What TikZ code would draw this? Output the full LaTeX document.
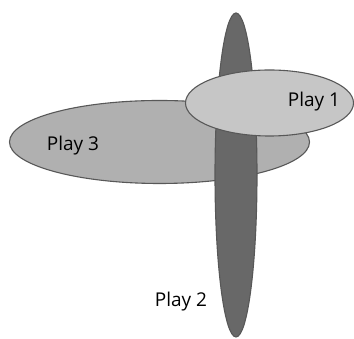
\documentclass[tikz,border=0pt]{standalone}
\usepackage{fontspec}
\setmainfont{Open Sans}
\usepackage{tikz}
\usetikzlibrary{positioning}
\definecolor{playlight}{RGB}{198,198,198}
\definecolor{playmid}{RGB}{176,176,176}
\definecolor{playdark}{RGB}{104,104,104}
\definecolor{playedge}{RGB}{88,88,88}
\tikzset{
  blob/.style={draw=playedge, line width=1.1pt},
  playlab/.style={font=\fontsize{19}{21}\selectfont, text=black, inner sep=0pt},
}

\begin{document}
\begin{tikzpicture}[x=1pt,y=1pt]
  \path[use as bounding box, fill=white] (0,0) rectangle (354,339);

  % overlapping plays
  \draw[blob, fill=playmid] (159.5,197) ellipse (150 and 41.5);
  \draw[blob, fill=playdark] (236,164) ellipse (21 and 162);
  \draw[blob, fill=playlight] (269.5,236) ellipse (84 and 33);

  \node[playlab] (play1) at (314,237) {Play 1};
  \node[playlab] (play3) at (73,193) {Play 3};
  \node[playlab] (play2) at (181,37) {Play 2};
\end{tikzpicture}
\end{document}
